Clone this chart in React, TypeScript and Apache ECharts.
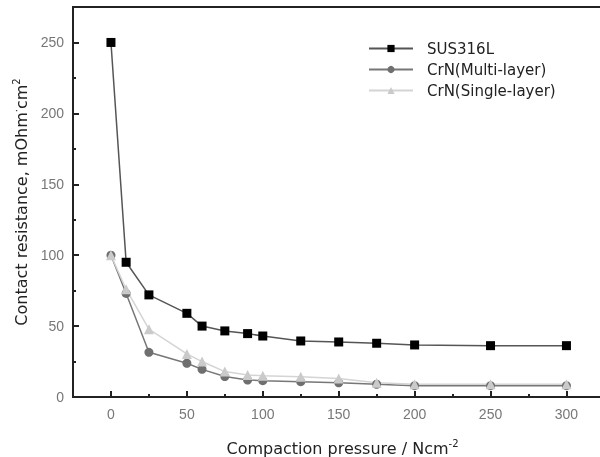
import React, { useEffect, useRef } from "react";
import * as echarts from "echarts";

const pressure = [0, 10, 25, 50, 60, 75, 90, 100, 125, 150, 175, 200, 250, 300];
const sus316L = [250, 95, 72, 59, 50, 46.6, 44.7, 43, 39.5, 38.8, 37.9, 36.7, 36.2, 36.2];
const crnMulti = [100, 73, 31.5, 23.8, 19.5, 14.4, 12, 11.5, 10.8, 10, 9, 8, 8, 8];
const crnSingle = [100, 76, 47.8, 30.4, 25, 17.9, 15.5, 15, 14.3, 13, 10, 9, 9, 9];
const xTicks = [0, 50, 100, 150, 200, 250, 300];
const xMinorTicks = [25, 75, 125, 175, 225, 275];
const yTicks = [0, 50, 100, 150, 200, 250];
const yMinorTicks = [25, 75, 125, 175, 225];

const zip = (xs: number[], ys: number[]) => xs.map((x, i) => [x, ys[i]]);

export default function App() {
  const ref = useRef<HTMLDivElement>(null);
  useEffect(() => {
    if (!ref.current) return;
    const chart = echarts.init(ref.current, undefined, { renderer: "svg" });
    const font = "Liberation Sans, Arial, sans-serif";
    const wide = "DejaVu Sans, sans-serif";
    const axisLine = { show: true, onZero: false, lineStyle: { color: "#222", width: 2 } };
    const sup = { fontSize: 10, fontFamily: wide, verticalAlign: "top", padding: [0, 0, 10, 0], color: "#222" };
    chart.setOption({
      animation: false,
      textStyle: { fontFamily: font },
      grid: {
        left: 73, right: 0, top: 7, bottom: 60,
        show: true, borderColor: "#222", borderWidth: 2,
        containLabel: false, outerBoundsMode: "none",
      },
      legend: {
        orient: "vertical",
        left: 363,
        top: 36,
        itemWidth: 44,
        itemHeight: 9,
        itemGap: 6,
        textStyle: { fontSize: 15, color: "#222", fontFamily: wide, padding: [0, 0, 0, 9] },
        data: ["SUS316L", "CrN(Multi-layer)", "CrN(Single-layer)"],
      },
      xAxis: [
        {
          type: "value",
          min: -25,
          max: 330,
          axisLine,
          splitLine: { show: false },
          axisTick: { inside: true, length: 6, customValues: xTicks, lineStyle: { color: "#222", width: 2 } },
          axisLabel: { customValues: xTicks, color: "#777", fontSize: 14, margin: 10 },
          name: "Compaction pressure / Ncm{sup|-2}",
          nameLocation: "middle",
          nameGap: 41,
          nameTextStyle: { fontSize: 16, color: "#222", fontFamily: wide, rich: { sup } },
        },
        {
          type: "value",
          min: -25,
          max: 330,
          position: "bottom",
          axisLine: { show: false, onZero: false },
          splitLine: { show: false },
          axisTick: { inside: true, length: 3, customValues: xMinorTicks, lineStyle: { color: "#222", width: 2 } },
          axisLabel: { show: false },
        },
      ],
      yAxis: [
        {
          type: "value",
          min: 0,
          max: 275,
          axisLine,
          splitLine: { show: false },
          axisTick: { inside: true, length: 6, customValues: yTicks, lineStyle: { color: "#222", width: 2 } },
          axisLabel: { customValues: yTicks, color: "#777", fontSize: 14, margin: 9 },
          name: "Contact resistance, mOhm{sup|·}cm{sup|2}",
          nameLocation: "middle",
          nameGap: 42,
          nameTextStyle: { fontSize: 16, color: "#222", fontFamily: wide, rich: { sup } },
        },
        {
          type: "value",
          min: 0,
          max: 275,
          position: "left",
          axisLine: { show: false, onZero: false },
          splitLine: { show: false },
          axisTick: { inside: true, length: 3, customValues: yMinorTicks, lineStyle: { color: "#222", width: 2 } },
          axisLabel: { show: false },
        },
      ],
      series: [
        {
          name: "SUS316L",
          type: "line",
          data: zip(pressure, sus316L),
          symbol: "rect",
          symbolSize: 9,
          itemStyle: { color: "#000" },
          lineStyle: { color: "#555", width: 1.5 },
        },
        {
          name: "CrN(Multi-layer)",
          type: "line",
          data: zip(pressure, crnMulti),
          symbol: "circle",
          symbolSize: 9,
          itemStyle: { color: "#6f6f6f" },
          lineStyle: { color: "#777", width: 1.5 },
        },
        {
          name: "CrN(Single-layer)",
          type: "line",
          data: zip(pressure, crnSingle),
          symbol: "triangle",
          symbolSize: 10,
          itemStyle: { color: "#cacaca" },
          lineStyle: { color: "#d4d4d4", width: 1.5 },
        },
      ],
    });
    return () => chart.dispose();
  }, []);
  return (
    <div style={{ position: "fixed", left: 0, top: 0, width: 600, height: 457, overflow: "hidden" }}>
      <div ref={ref} style={{ width: 612, height: 457 }} />
    </div>
  );
}
